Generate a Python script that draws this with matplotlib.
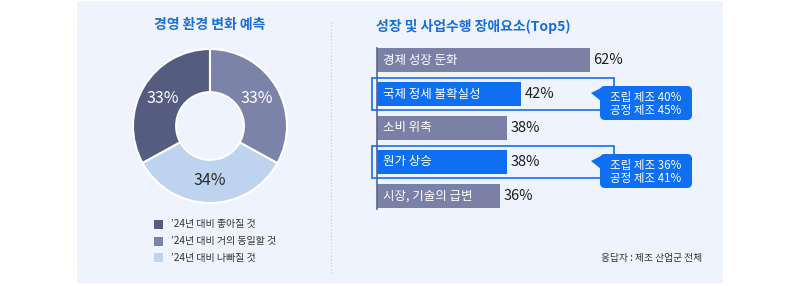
import matplotlib
matplotlib.use('Agg')
import matplotlib.pyplot as plt
from matplotlib.patches import Rectangle, FancyBboxPatch, Polygon

plt.rcParams['font.family'] = ['Noto Sans CJK KR', 'DejaVu Sans']

# data
pie_title = '경영 환경 변화 예측'
pie_labels = ['’24년 대비 좋아질 것', '’24년 대비 거의 동일할 것', '’24년 대비 나빠질 것']
pie_values = [33, 33, 34]
pie_colors = ['#545c80', '#7c83a9', '#bdd3ef']

bar_title = '성장 및 사업수행 장애요소(Top5)'
bar_labels = ['경제 성장 둔화', '국제 정세 불확실성', '소비 위축', '원가 상승', '시장, 기술의 급변']
bar_values = [62, 42, 38, 38, 36]
highlight = [False, True, False, True, False]
callouts = {1: ['조립 제조 40%', '공정 제조 45%'],
            3: ['조립 제조 36%', '공정 제조 41%']}
footnote = '응답자 : 제조 산업군 전체'

BLUE = '#0e6ff2'
GREY = '#7b80a6'
W, H = 800, 286

fig = plt.figure(figsize=(W / 100, H / 100), dpi=100, facecolor='white')

# background layer in pixel coordinates
bg = fig.add_axes([0, 0, 1, 1])
bg.set_xlim(0, W)
bg.set_ylim(H, 0)
bg.axis('off')
bg.add_patch(Rectangle((77, 1), 646, 282, color='#eef3fd', lw=0))
bg.plot([331, 331], [22, 273], ls=(0, (1, 2)), color='#c5cad6', lw=0.8)
bg.text(210, 25, pie_title, ha='center', va='center', fontsize=10,
        fontweight='bold', color='#1a6fd8')
bg.text(376, 26, bar_title, ha='left', va='center', fontsize=10,
        fontweight='bold', color='#1a6fd8')
bg.text(702, 258, footnote, ha='right', va='center', fontsize=7,
        fontweight='medium', color='#333333')

# legend
for i, (lab, col) in enumerate(zip(pie_labels, pie_colors)):
    y = 224.5 + 16.5 * i
    bg.add_patch(Rectangle((154, y - 4.5), 9, 9, color=col, lw=0))
    bg.text(171, y, lab, ha='left', va='center', fontsize=7.2,
            fontweight='medium', color='#333333')

# donut
cx, cy, r = 210, 126, 77
pax = fig.add_axes([(cx - r) / W, (H - cy - r) / H, 2 * r / W, 2 * r / H])
order = [0, 2, 1]  # counter-clockwise from 12 o'clock: dark, light, medium
wedges, texts, autotexts = pax.pie(
    [pie_values[k] for k in order], colors=[pie_colors[k] for k in order],
    startangle=90, counterclock=True, radius=1,
    wedgeprops=dict(width=0.56, edgecolor='white', linewidth=1.5),
    autopct=lambda p: f'{p:.0f}%', pctdistance=0.71,
    textprops=dict(fontsize=11.5))
for t, k in zip(autotexts, order):
    t.set_color('#2b2b2b' if k == 2 else 'white')
pax.set_xlim(-1, 1)
pax.set_ylim(-1, 1)
pax.set_aspect('equal')
pax.patch.set_alpha(0)

# bars
x0, px_per = 377, 3.43
top, step = 43, 34
n = len(bar_values)
bax = fig.add_axes([x0 / W, (H - top - step * n) / H, 100 * px_per / W, step * n / H])
bax.patch.set_alpha(0)
ypos = list(range(n))
bars = bax.barh(ypos, bar_values, height=0.68,
                color=[BLUE if h else GREY for h in highlight])
bax.set_xlim(0, 100)
bax.set_ylim(n - 0.5, -0.5)
bax.set_xticks([])
bax.set_yticks([])
for s in ['top', 'right', 'bottom']:
    bax.spines[s].set_visible(False)
bax.spines['left'].set_color('#5f6584')
bax.spines['left'].set_linewidth(1.2)
bax.spines['left'].set_bounds(-0.35, n - 0.62)
bax.bar_label(bars, labels=[f'{v}%' for v in bar_values], padding=2.5,
              fontsize=10.5, color='#1e1e1e')
for y, lab in zip(ypos, bar_labels):
    bax.text(1.8, y, lab, ha='left', va='center', fontsize=9,
             fontweight='medium', color='white')

# foreground: outline boxes and callouts, in pixels
fg = fig.add_axes([0, 0, 1, 1])
fg.set_xlim(0, W)
fg.set_ylim(H, 0)
fg.axis('off')
for i, lines in callouts.items():
    c = H - bax.transData.transform((0, i))[1]
    fg.add_patch(Rectangle((372, c - 16), 242, 32, fill=False, ec=BLUE, lw=1.2))
    fg.add_patch(FancyBboxPatch((600, c - 8), 92, 34,
                                boxstyle='round,pad=0,rounding_size=5',
                                fc=BLUE, ec='none'))
    fg.add_patch(Polygon([(591, c - 1), (605, c - 8), (601, c + 7)],
                         closed=True, fc=BLUE, ec='none'))
    for j, line in enumerate(lines):
        fg.text(646, c + 3 + 13.5 * j, line, ha='center', va='center',
                fontsize=8.3, fontweight='medium', color='white')

fig.savefig('out.png', dpi=100, facecolor='white')
